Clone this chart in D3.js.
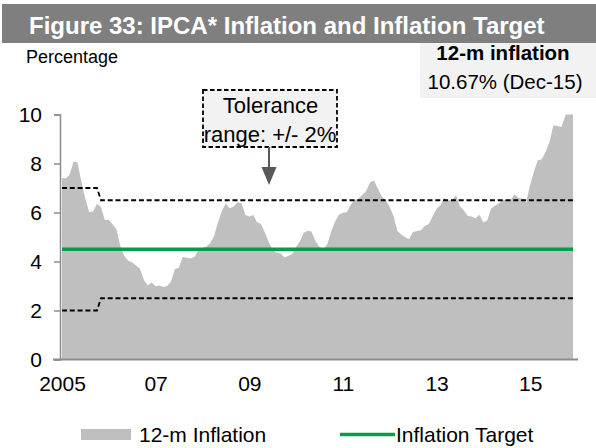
<!DOCTYPE html>
<html>
<head>
<meta charset="utf-8">
<script src="https://cdn.jsdelivr.net/npm/d3@7"></script>
<style>
  body { margin: 0; background: #fff; }
  svg { display: block; font-family: Arial, "Liberation Sans", sans-serif; }
</style>
</head>
<body>
<div id="ipca_chart"></div>
<script>
// months from Jan 2005 to Dec 2015
const months = d3.timeMonths(new Date(2005, 0, 1), new Date(2016, 0, 1));

// 12-m IPCA inflation, % (one row per year)
const inflation = [
  7.41, 7.39, 7.54, 8.07, 8.05, 7.27, 6.57, 6.02, 6.04, 6.36, 6.22, 5.69,
  5.70, 5.51, 5.32, 4.63, 4.23, 4.03, 3.97, 3.84, 3.70, 3.26, 3.02, 3.14,
  2.99, 3.02, 2.96, 3.00, 3.18, 3.69, 3.74, 4.18, 4.15, 4.12, 4.19, 4.46,
  4.56, 4.61, 4.73, 5.04, 5.58, 6.06, 6.37, 6.17, 6.25, 6.41, 6.39, 5.90,
  5.84, 5.90, 5.61, 5.53, 5.20, 4.80, 4.50, 4.36, 4.34, 4.17, 4.22, 4.31,
  4.59, 4.83, 5.17, 5.26, 5.22, 4.84, 4.60, 4.49, 4.70, 5.20, 5.63, 5.91,
  5.99, 6.01, 6.30, 6.51, 6.55, 6.71, 6.87, 7.23, 7.31, 6.97, 6.64, 6.50,
  6.22, 5.85, 5.24, 5.10, 4.99, 4.92, 5.20, 5.24, 5.28, 5.45, 5.53, 5.84,
  6.15, 6.31, 6.59, 6.49, 6.50, 6.70, 6.27, 6.09, 5.86, 5.84, 5.77, 5.91,
  5.59, 5.68, 6.15, 6.28, 6.37, 6.52, 6.50, 6.51, 6.75, 6.59, 6.56, 6.41,
  7.14, 7.70, 8.13, 8.17, 8.47, 8.89, 9.56, 9.53, 9.49, 9.93, 10.48, 10.67
];

// target and tolerance band: 2005 band is +/- 2.5, later +/- 2
const target = 4.5;
const bandSwitch = 10; // first month index drawn with the narrower band
const upperBand = months.map((d, i) => i < bandSwitch ? 7 : 6.5);
const lowerBand = months.map((d, i) => i < bandSwitch ? 2 : 2.5);

const yTicks = [0, 2, 4, 6, 8, 10];
const xTicks = [2005, 2007, 2009, 2011, 2013, 2015];
const xTickLabels = ["2005", "07", "09", "11", "13", "15"];

const W = 596, H = 448;
const plot = {left: 62, right: 573, top: 114.5, bottom: 359.5};

const svg = d3.select("#ipca_chart")
  .append("svg")
    .attr("width", W)
    .attr("height", H);

// title bar
svg.append("rect")
  .attr("x", 2).attr("y", 4)
  .attr("width", W - 2).attr("height", 39)
  .attr("fill", "#7f7f7f");
svg.append("text")
  .attr("x", 29).attr("y", 33.5)
  .attr("fill", "#fff")
  .attr("font-size", 24)
  .attr("font-weight", "bold")
  .text("Figure 33: IPCA* Inflation and Inflation Target");

svg.append("text")
  .attr("x", 26).attr("y", 62.5)
  .attr("font-size", 18)
  .text("Percentage");

// latest reading box
svg.append("rect")
  .attr("x", 420).attr("y", 43)
  .attr("width", W - 420).attr("height", 55)
  .attr("fill", "#f2f2f2");
svg.append("text")
  .attr("x", 503).attr("y", 59.5)
  .attr("text-anchor", "middle")
  .attr("font-size", 20.5)
  .attr("font-weight", "bold")
  .text("12-m inflation");
svg.append("text")
  .attr("x", 505).attr("y", 88.5)
  .attr("text-anchor", "middle")
  .attr("font-size", 20.5)
  .text("10.67% (Dec-15)");

// scales
const x = d3.scaleTime()
  .domain([months[0], months[months.length - 1]])
  .range([plot.left, plot.right]);
const y = d3.scaleLinear()
  .domain([0, 10])
  .range([plot.bottom, plot.top]);

svg.append("clipPath").attr("id", "plotclip")
  .append("rect")
    .attr("x", plot.left).attr("y", plot.top)
    .attr("width", plot.right - plot.left + 2)
    .attr("height", plot.bottom - plot.top);

// 12-m inflation area
svg.append("path")
  .datum(inflation)
  .attr("clip-path", "url(#plotclip)")
  .attr("fill", "#bfbfbf")
  .attr("d", d3.area()
    .x((d, i) => x(months[i]))
    .y0(y(0))
    .y1(d => y(d)));

// tolerance band
[upperBand, lowerBand].forEach(band => {
  svg.append("path")
    .datum(band)
    .attr("fill", "none")
    .attr("stroke", "#000")
    .attr("stroke-width", 1.8)
    .attr("stroke-dasharray", "5,2.8")
    .attr("d", d3.line()
      .x((d, i) => x(months[i]))
      .y(d => y(d)));
});

// inflation target
svg.append("path")
  .datum(months)
  .attr("fill", "none")
  .attr("stroke", "#009e49")
  .attr("stroke-width", 3.5)
  .attr("d", d3.line()
    .x(d => x(d))
    .y(() => y(target)));

// Y axis
const yAxis = svg.append("g")
  .attr("transform", `translate(${plot.left - 2},0)`)
  .call(d3.axisLeft(y).tickValues(yTicks).tickSize(6).tickPadding(12));
yAxis.select(".domain").attr("stroke", "#8c8c8c").attr("stroke-width", 1.5);
yAxis.selectAll(".tick line").attr("stroke", "#8c8c8c").attr("stroke-width", 1.5);
yAxis.selectAll(".tick text")
  .attr("font-size", 21)
  .attr("font-family", "Arial, 'Liberation Sans', sans-serif")
  .attr("fill", "#000");

// X axis
const xAxis = svg.append("g")
  .attr("transform", `translate(0,${plot.bottom})`)
  .call(d3.axisBottom(x)
    .tickValues(xTicks.map(yr => new Date(yr, 0, 1)))
    .tickFormat((d, i) => xTickLabels[i])
    .tickSize(0).tickPadding(17));
xAxis.select(".domain")
  .attr("d", `M${plot.left - 9},0H${plot.right + 5}`)
  .attr("stroke", "#8c8c8c").attr("stroke-width", 2);
xAxis.selectAll(".tick text")
  .attr("font-size", 21)
  .attr("font-family", "Arial, 'Liberation Sans', sans-serif")
  .attr("fill", "#000");

// tolerance callout
svg.append("rect")
  .attr("x", 203).attr("y", 90)
  .attr("width", 134).attr("height", 57)
  .attr("fill", "#f2f2f2")
  .attr("stroke", "#000")
  .attr("stroke-width", 1.8)
  .attr("stroke-dasharray", "4.5,2.5");
svg.append("text")
  .attr("x", 270.5).attr("y", 113)
  .attr("text-anchor", "middle")
  .attr("font-size", 22)
  .text("Tolerance");
svg.append("text")
  .attr("x", 270).attr("y", 141.5)
  .attr("text-anchor", "middle")
  .attr("font-size", 22)
  .text("range: +/- 2%");
svg.append("line")
  .attr("x1", 269).attr("x2", 269)
  .attr("y1", 147).attr("y2", 168)
  .attr("stroke", "#595959").attr("stroke-width", 2);
svg.append("path")
  .attr("d", "M261.5,167L276.5,167L269,185Z")
  .attr("fill", "#595959");

// legend
const legend = svg.append("g").attr("font-size", 21);
legend.append("rect")
  .attr("x", 81).attr("y", 429)
  .attr("width", 50).attr("height", 11)
  .attr("fill", "#bfbfbf");
legend.append("text")
  .attr("x", 139).attr("y", 442)
  .text("12-m Inflation");
legend.append("line")
  .attr("x1", 340).attr("x2", 395)
  .attr("y1", 434.5).attr("y2", 434.5)
  .attr("stroke", "#009e49").attr("stroke-width", 3.5);
legend.append("text")
  .attr("x", 396).attr("y", 442)
  .text("Inflation Target");
</script>
</body>
</html>
